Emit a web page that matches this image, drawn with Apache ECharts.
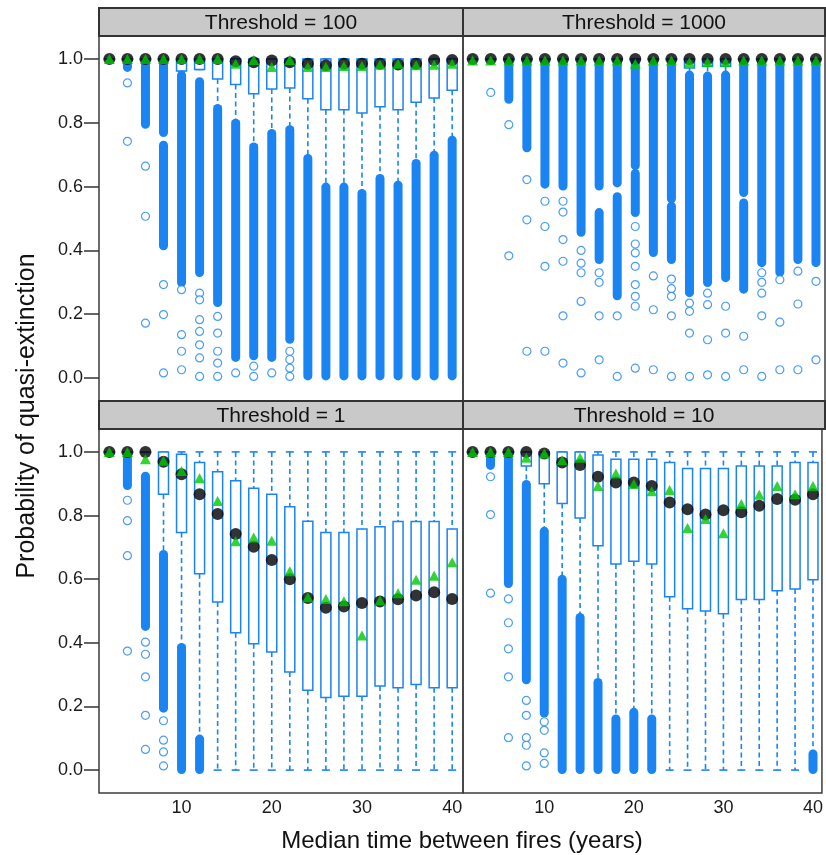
<!DOCTYPE html>
<html><head><meta charset="utf-8">
<script src="https://cdn.jsdelivr.net/npm/echarts@6/dist/echarts.min.js"></script>
<style>html,body{margin:0;padding:0;background:#fff}#c{width:826px;height:855px}</style>
</head><body><div id="c"></div>
<script>
// ---------------- data ----------------
const years = [2,4,6,8,10,12,14,16,18,20,22,24,26,28,30,32,34,36,38,40];
const xTicks = [10,20,30,40];
const yTicks = [0,0.2,0.4,0.6,0.8,1.0];
const stripTitles = ['Threshold = 100','Threshold = 1000','Threshold = 1','Threshold = 10'];

// Threshold = 100
const t100Black = [1,1,1,1,1,1,1,0.993,0.99,0.995,0.99,0.985,0.98,0.985,0.985,0.985,0.983,0.985,0.997,0.997];
const t100Green = [1,1,1,1,1,1,1,0.985,0.997,0.975,0.997,0.975,0.975,0.978,0.978,0.982,0.985,0.98,0.982,0.985];
const t100Q3 = [1,1,1,1,1,1,1,1,1,1,1,1,1,1,1,1,1,1,1,1];
const t100Q1 = [1,1,1,1,0.962,0.967,0.937,0.92,0.891,0.906,0.909,0.875,0.841,0.841,0.831,0.85,0.841,0.864,0.878,0.902];
const t100WHi = [1,1,1,1,1,1,1,1,1,1,1,1,1,1,1,1,1,1,1,1];
const t100WLo = [1,1,1,1,0.962,0.967,0.852,0.805,0.731,0.768,0.784,0.69,0.601,0.601,0.582,0.627,0.606,0.674,0.70,0.747];
const t100Dense = [[4,0.972,0.995],[6,0.794,0.99],[8,0.768,0.99],[8,0.413,0.731],[10,0.298,0.951],[12,0.329,0.93],[14,0.235,0.846],[16,0.063,0.80],[18,0.068,0.726],[20,0.063,0.768],[22,0.12,0.78],[24,0.005,0.69],[26,0.005,0.60],[28,0.005,0.60],[30,0.005,0.58],[32,0.005,0.627],[34,0.005,0.606],[36,0.005,0.674],[38,0.005,0.70],[40,0.005,0.747]];
const t100Points = [[4,0.925],[4,0.742],[6,0.664],[6,0.507],[6,0.172],[8,0.293],[8,0.199],[8,0.016],[10,0.277],[10,0.136],[10,0.084],[10,0.026],[12,0.266],[12,0.245],[12,0.183],[12,0.146],[12,0.104],[12,0.063],[12,0.005],[14,0.193],[14,0.141],[14,0.084],[14,0.047],[14,0.005],[16,0.016],[18,0.037],[18,0.005],[20,0.016],[22,0.084],[22,0.058],[22,0.031],[22,0.005]];

// Threshold = 1000
const t1000Black = [1,1,1,1,1,1,1,1,1,1,1,1,1,1,1,1,1,1,1,1];
const t1000Green = [0.995,0.995,0.995,0.995,0.995,0.995,0.995,0.995,0.995,0.985,0.995,0.995,0.99,0.99,0.99,0.995,0.995,0.995,0.995,0.995];
const t1000Q3 = [1,1,1,1,1,1,1,1,1,1,1,1,1,1,1,1,1,1,1,1];
const t1000Q1 = [1,1,1,1,1,1,1,1,1,1,1,1,0.972,0.977,0.977,1,1,1,1,1];
const t1000WHi = [1,1,1,1,1,1,1,1,1,1,1,1,1,1,1,1,1,1,1,1];
const t1000WLo = [1,1,1,1,1,1,1,1,1,1,1,1,0.951,0.948,0.951,1,1,1,1,1];
const t1000Dense = [[6,0.872,0.99],[8,0.72,0.99],[10,0.606,0.99],[12,0.60,0.99],[14,0.455,0.99],[16,0.60,0.99],[16,0.37,0.52],[18,0.61,0.99],[18,0.256,0.57],[20,0.664,0.99],[20,0.517,0.643],[22,0.392,0.99],[24,0.56,0.99],[24,0.37,0.54],[26,0.266,0.951],[28,0.298,0.948],[30,0.313,0.951],[32,0.58,0.99],[32,0.277,0.55],[34,0.36,0.99],[36,0.33,0.99],[38,0.37,0.99],[40,0.36,0.99]];
const t1000Points = [[4,0.895],[6,0.794],[6,0.383],[8,0.622],[8,0.496],[8,0.084],[10,0.554],[10,0.475],[10,0.35],[10,0.084],[12,0.554],[12,0.52],[12,0.434],[12,0.366],[12,0.195],[12,0.047],[14,0.40],[14,0.36],[14,0.33],[14,0.24],[14,0.016],[16,0.33],[16,0.30],[16,0.195],[16,0.057],[18,0.195],[18,0.005],[20,0.475],[20,0.42],[20,0.392],[20,0.35],[20,0.293],[20,0.256],[20,0.225],[20,0.031],[22,0.32],[22,0.214],[22,0.026],[24,0.31],[24,0.28],[24,0.256],[24,0.195],[24,0.005],[26,0.235],[26,0.209],[26,0.141],[26,0.005],[28,0.266],[28,0.23],[28,0.12],[28,0.01],[30,0.225],[30,0.141],[30,0.005],[32,0.131],[32,0.026],[34,0.33],[34,0.30],[34,0.266],[34,0.195],[34,0.005],[36,0.308],[36,0.175],[36,0.026],[38,0.335],[38,0.232],[38,0.026],[40,0.303],[40,0.057]];

// Threshold = 1
const t1Black = [1,1,1,0.969,0.93,0.867,0.805,0.742,0.702,0.66,0.60,0.541,0.51,0.514,0.525,0.53,0.537,0.549,0.559,0.538];
const t1Green = [1,1,0.977,0.972,0.94,0.917,0.846,0.719,0.731,0.721,0.625,0.543,0.538,0.531,0.423,0.533,0.556,0.598,0.611,0.653];
const t1Q3 = [1,1,1,1,0.993,0.967,0.938,0.909,0.886,0.867,0.828,0.782,0.747,0.747,0.758,0.765,0.781,0.781,0.781,0.758];
const t1Q1 = [1,1,1,0.867,0.747,0.617,0.528,0.432,0.397,0.371,0.308,0.251,0.228,0.232,0.232,0.264,0.259,0.269,0.259,0.259];
const t1WHi = [1,1,1,1,1,1,1,1,1,1,1,1,1,1,1,1,1,1,1,1];
const t1WLo = [1,1,1,0.68,0.39,0.10,0,0,0,0,0,0,0,0,0,0,0,0,0,0];
const t1Dense = [[4,0.893,0.987],[6,0.45,0.925],[8,0.193,0.679],[10,0.0,0.387],[12,0.0,0.099]];
const t1Points = [[4,0.848],[4,0.784],[4,0.674],[4,0.374],[6,0.402],[6,0.364],[6,0.293],[6,0.172],[6,0.065],[8,0.155],[8,0.094],[8,0.057],[8,0.013]];

// Threshold = 10
const t10Black = [1,1,1,1,0.995,0.967,0.959,0.922,0.904,0.904,0.893,0.841,0.82,0.803,0.817,0.81,0.831,0.852,0.85,0.867];
const t10Green = [1,1,1,0.982,0.995,0.974,0.982,0.893,0.932,0.899,0.876,0.88,0.761,0.789,0.744,0.836,0.865,0.893,0.867,0.893];
const t10Q3 = [1,1,1,1,1,1,1,0.99,0.977,0.977,0.977,0.967,0.948,0.948,0.948,0.956,0.956,0.956,0.967,0.967];
const t10Q1 = [1,1,1,0.956,0.90,0.838,0.792,0.705,0.648,0.656,0.648,0.545,0.507,0.50,0.491,0.536,0.536,0.564,0.569,0.598];
const t10WHi = [1,1,1,1,1,1,1,1,1,1,1,1,1,1,1,1,1,1,1,1];
const t10WLo = [1,1,1,0.90,0.752,0.601,0.481,0.277,0.162,0.183,0.162,0,0,0,0,0,0,0,0,0.052];
const t10Dense = [[4,0.956,0.987],[6,0.585,0.987],[8,0.282,0.899],[10,0.178,0.752],[12,0,0.601],[14,0,0.481],[16,0,0.277],[18,0,0.162],[20,0,0.183],[22,0,0.162],[40,0,0.052]];
const t10Points = [[4,0.922],[4,0.803],[4,0.556],[6,0.538],[6,0.463],[6,0.381],[6,0.293],[6,0.102],[8,0.219],[8,0.172],[8,0.102],[8,0.078],[8,0.013],[10,0.152],[10,0.125],[10,0.054],[10,0.021]];

// ---------------- chart ----------------
const BLUE = '#1a84f2';
const FONT = '"Liberation Sans", Arial, Helvetica, sans-serif';
const panels = [
  {black:t100Black, green:t100Green, q1:t100Q1, q3:t100Q3, wlo:t100WLo, whi:t100WHi, dense:t100Dense, pts:t100Points},
  {black:t1000Black, green:t1000Green, q1:t1000Q1, q3:t1000Q3, wlo:t1000WLo, whi:t1000WHi, dense:t1000Dense, pts:t1000Points},
  {black:t1Black, green:t1Green, q1:t1Q1, q3:t1Q3, wlo:t1WLo, whi:t1WHi, dense:t1Dense, pts:t1Points},
  {black:t10Black, green:t10Green, q1:t10Q1, q3:t10Q3, wlo:t10WLo, whi:t10WHi, dense:t10Dense, pts:t10Points}
];
const gridBoxes = [
  {left:99, top:36, width:364, height:365, xmin:0.85, xmax:41.2},
  {left:463, top:36, width:362, height:365, xmin:0.93, xmax:41.0},
  {left:99, top:429, width:364, height:364, xmin:0.85, xmax:41.2},
  {left:463, top:429, width:362, height:364, xmin:0.93, xmax:41.0}
];
const stripBoxes = [
  {x:99, y:8, w:364, h:28},
  {x:463, y:8, w:362, h:28},
  {x:99, y:401, w:364, h:28},
  {x:463, y:401, w:362, h:28}
];

function boxRender(params, api) {
  const x = api.value(0), wl = api.value(1), q1 = api.value(2), q3 = api.value(3), wh = api.value(4);
  const pT = api.coord([x, q3]), pB = api.coord([x, q1]);
  const pL = api.coord([x, wl]), pH = api.coord([x, wh]);
  const bw = 10, cw = 8, cx = pT[0];
  const ch = [];
  const dash = {stroke: BLUE, lineWidth: 1.6, lineDash: [5, 3.5]};
  const solid = {stroke: BLUE, lineWidth: 1.6};
  if (pH[1] < pT[1]) ch.push({type:'line', shape:{x1:cx, y1:pH[1], x2:cx, y2:pT[1]}, style:dash});
  if (pL[1] > pB[1]) ch.push({type:'line', shape:{x1:cx, y1:pB[1], x2:cx, y2:pL[1]}, style:dash});
  ch.push({type:'line', shape:{x1:cx-cw/2, y1:pH[1], x2:cx+cw/2, y2:pH[1]}, style:solid});
  ch.push({type:'line', shape:{x1:cx-cw/2, y1:pL[1], x2:cx+cw/2, y2:pL[1]}, style:solid});
  ch.push({type:'rect', shape:{x:cx-bw/2, y:pT[1], width:bw, height:Math.max(0.5, pB[1]-pT[1])}, style:{fill:'#fff', stroke:BLUE, lineWidth:1.5}});
  return {type:'group', children: ch};
}
function denseRender(params, api) {
  const x = api.value(0), lo = api.value(1), hi = api.value(2);
  const pH = api.coord([x, hi]), pL = api.coord([x, lo]);
  const w = 9;
  return {type:'rect', shape:{x:pH[0]-w/2, y:pH[1]-4, width:w, height:(pL[1]-pH[1])+8, r:4.5}, style:{fill:BLUE}};
}

const grid = [], xAxis = [], yAxis = [], series = [], graphic = [];
gridBoxes.forEach((g, i) => {
  grid.push({left:g.left, top:g.top, width:g.width, height:g.height, show:true, borderColor:'#3c3c3c', borderWidth:1.5, backgroundColor:'transparent'});
  const bottom = i >= 2, leftSide = (i % 2 === 0);
  xAxis.push({type:'value', gridIndex:i, min:g.xmin, max:g.xmax,
    axisLine:{show:false}, splitLine:{show:false}, axisTick:{show:false},
    axisLabel:{show:bottom, customValues:xTicks, fontSize:18, color:'#1a1a1a', margin:6, fontFamily:FONT}});
  yAxis.push({type:'value', gridIndex:i, min:-0.072, max:1.072,
    axisLine:{show:false}, splitLine:{show:false},
    axisTick:{show:leftSide, customValues:yTicks, length:15, lineStyle:{color:'#333', width:1.5}},
    axisLabel:{show:leftSide, customValues:yTicks, fontSize:18, color:'#1a1a1a', margin:16, fontFamily:FONT,
      formatter: v => Number(v).toFixed(1)}});
  const p = panels[i];
  series.push({type:'custom', xAxisIndex:i, yAxisIndex:i, renderItem:boxRender, silent:true,
    encode:{x:0, y:[1,2,3,4]}, data: years.map((x, k) => [x, p.wlo[k], p.q1[k], p.q3[k], p.whi[k]]), z:2});
  series.push({type:'custom', xAxisIndex:i, yAxisIndex:i, renderItem:denseRender, silent:true,
    encode:{x:0, y:[1,2]}, data: p.dense, z:3});
  series.push({type:'scatter', xAxisIndex:i, yAxisIndex:i, silent:true, symbol:'circle', symbolSize:8,
    itemStyle:{color:'#fff', borderColor:BLUE, borderWidth:1.2}, data:p.pts, z:4});
  series.push({type:'scatter', xAxisIndex:i, yAxisIndex:i, silent:true, symbol:'circle', symbolSize:12,
    itemStyle:{color:'#000'}, data: years.map((x, k) => [x, p.black[k]]), z:5});
  series.push({type:'scatter', xAxisIndex:i, yAxisIndex:i, silent:true, symbol:'triangle', symbolSize:[11,10],
    itemStyle:{color:'#00c800'}, data: years.map((x, k) => [x, p.green[k]]), z:6});
  const s = stripBoxes[i];
  graphic.push({type:'rect', shape:{x:s.x, y:s.y, width:s.w, height:s.h}, style:{fill:'#c9c9c9', stroke:'#333', lineWidth:2}, z:10});
  graphic.push({type:'text', x:s.x + s.w/2, y:s.y + s.h/2 + 1, style:{text:stripTitles[i], font:'21px ' + FONT, fill:'#111', textAlign:'center', textVerticalAlign:'middle'}, z:11});
});
graphic.push({type:'text', x:462, y:841, style:{text:'Median time between fires (years)', font:'24px ' + FONT, fill:'#111', textAlign:'center', textVerticalAlign:'middle'}});
graphic.push({type:'text', x:27, y:416, rotation:Math.PI/2, style:{text:'Probability of quasi-extinction', font:'25px ' + FONT, fill:'#111', textAlign:'center', textVerticalAlign:'middle'}});

const chart = echarts.init(document.getElementById('c'), null, {renderer:'canvas'});
chart.setOption({animation:false, backgroundColor:'#fff', grid, xAxis, yAxis, series, graphic});
</script></body></html>
